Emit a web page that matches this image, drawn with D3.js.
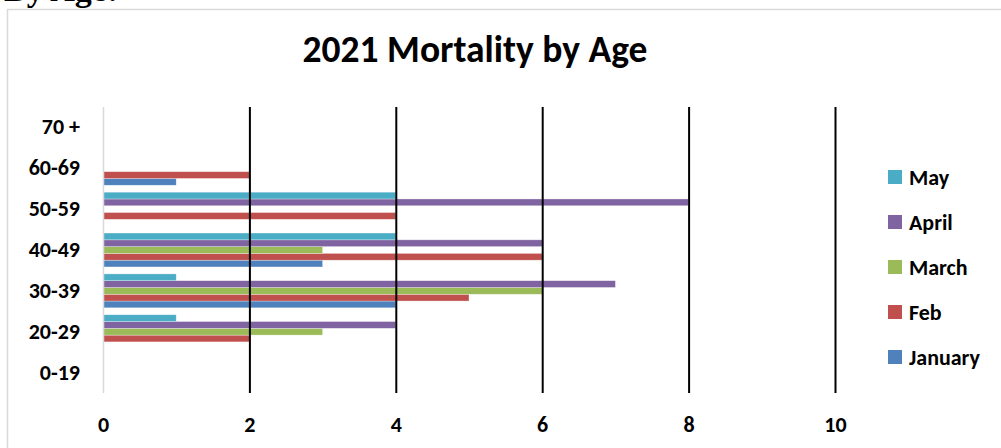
<!DOCTYPE html>
<html>
<head>
<meta charset="utf-8">
<script src="https://cdn.jsdelivr.net/npm/d3@7"></script>
<style>
  html, body { margin: 0; padding: 0; background: #fff; }
  svg { display: block; }
</style>
</head>
<body>
<svg id="chart" width="1001" height="448"></svg>
<script>
// data
const ageGroups = ["0-19", "20-29", "30-39", "40-49", "50-59", "60-69", "70 +"];
const months = ["January", "Feb", "March", "April", "May"];
const january = [0, 0, 4, 3, 0, 1, 0];
const feb     = [0, 2, 5, 6, 4, 2, 0];
const march   = [0, 3, 6, 3, 0, 0, 0];
const april   = [0, 4, 7, 6, 8, 0, 0];
const may     = [0, 1, 1, 4, 4, 0, 0];
const xTicks = [0, 2, 4, 6, 8, 10];
const monthColors = ["#4F81BD", "#C0504D", "#9BBB59", "#8064A2", "#4BACC6"];

const seriesValues = [january, feb, march, april, may];

let svg = d3.select("#chart");
let font = "Carlito, 'Open Sans', sans-serif";

// the caption above the chart box, mostly cut off
svg.append("text").attr("x", 4).attr("y", 1)
    .style("font-family", "'Liberation Serif', serif").style("font-weight", "bold")
    .style("font-size", "34px").text("By Age:");

// chart box
svg.append("rect").attr("x", 7.5).attr("y", 9.5).attr("width", 1010).attr("height", 460)
    .style("fill", "#fff").style("stroke", "#d9d9d9").style("stroke-width", 1.5);

let plot = {left: 103, right: 835, top: 107, bottom: 393};

let x = d3.scaleLinear().domain([0, 10]).range([plot.left, plot.right]);
let y = d3.scaleBand().domain(ageGroups).range([plot.bottom, plot.top]).paddingInner(0.17).paddingOuter(0.085);
// January sits at the bottom of each group, May at the top
let ySub = d3.scaleBand().domain(months).range([y.bandwidth(), 0]);

// title
let title = svg.append("text").attr("x", 475).attr("y", 62).attr("text-anchor", "middle")
    .style("font-family", font).style("font-weight", "bold").style("font-size", "30px")
    .text("2021 Mortality by Age");
let tw = title.node().getComputedTextLength();
title.style("font-size", (30 * 345 / tw) + "px");

// bars
let bars = [];
for(let s = 0; s < months.length; s++){
    for(let c = 0; c < ageGroups.length; c++){
        bars.push({month: months[s], age: ageGroups[c], v: seriesValues[s][c], color: monthColors[s]});
    }
}
svg.append("g").selectAll("rect")
    .data(bars.filter(function(d){return d.v > 0}))
    .enter().append("rect")
    .attr("x", x(0))
    .attr("y", function(d){return y(d.age) + ySub(d.month)})
    .attr("width", function(d){return x(d.v) - x(0)})
    .attr("height", ySub.bandwidth())
    .style("fill", function(d){return d.color})
    .style("stroke", "rgba(255,255,255,0.5)").style("stroke-width", 0.6);

// gridlines (drawn over the bars like the reference)
let grid = svg.append("g").attr("transform", "translate(0," + plot.bottom + ")")
    .call(d3.axisBottom(x).tickValues(xTicks).tickSize(-(plot.bottom - plot.top)).tickFormat(""));
grid.select(".domain").remove();
grid.selectAll(".tick line").style("stroke", function(d){return d === 0 ? "#d9d9d9" : "#000"})
    .style("stroke-width", function(d){return d === 0 ? 1.5 : 2});

// x tick labels
let xAxis = svg.append("g").attr("transform", "translate(0," + plot.bottom + ")")
    .call(d3.axisBottom(x).tickValues(xTicks).tickSize(0).tickPadding(23));
xAxis.select(".domain").remove();
xAxis.selectAll("text").style("font-family", font).style("font-weight", "bold")
    .style("font-size", "22px").style("fill", "#000");

// y labels
let yAxis = svg.append("g").attr("transform", "translate(" + plot.left + ",0)")
    .call(d3.axisLeft(y).tickSize(0).tickPadding(23));
yAxis.select(".domain").remove();
yAxis.selectAll("text").style("font-family", font).style("font-weight", "bold")
    .style("font-size", "22px").style("fill", "#000");

// legend, May on top
let legendOrder = months.slice().reverse();
let legend = svg.append("g").selectAll("g").data(legendOrder).enter().append("g")
    .attr("transform", function(d, i){return "translate(888," + (177 + i * 45) + ")"});
legend.append("rect").attr("x", 0).attr("y", -7).attr("width", 14).attr("height", 14)
    .style("fill", function(d){return monthColors[months.indexOf(d)]});
legend.append("text").attr("x", 21).attr("y", 0).attr("dy", "0.35em")
    .style("font-family", font).style("font-weight", "bold").style("font-size", "22px")
    .text(function(d){return d});
</script>
</body>
</html>
